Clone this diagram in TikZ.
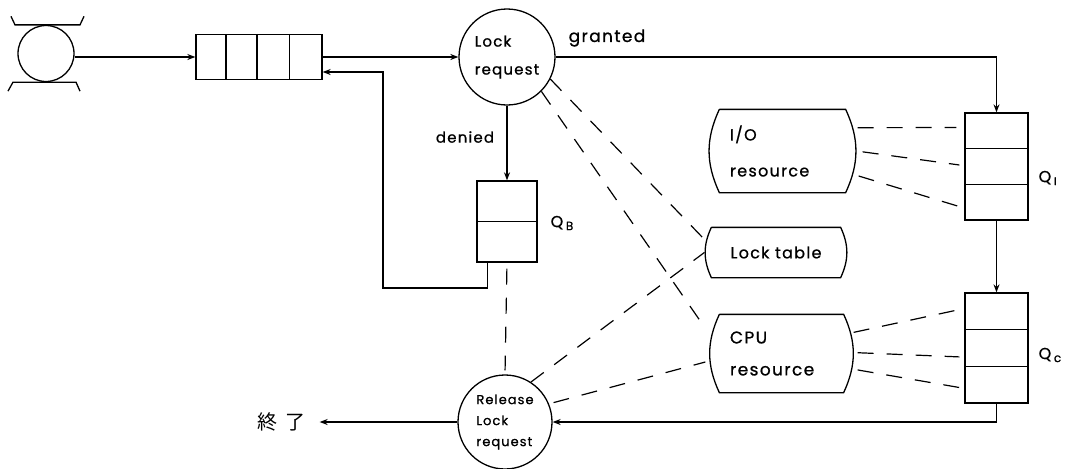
\documentclass[tikz,border=0pt]{standalone}
\usepackage{fontspec}
\setmainfont{Poppins}[LetterSpace=8,FakeBold=0.8]
\newfontfamily\cjk{Noto Sans CJK JP}
\usetikzlibrary{arrows.meta,calc}
\begin{document}
\begin{tikzpicture}[x=1pt,y=-1pt,
  line width=1.3pt,
  arr/.style={-{Stealth[length=8pt,width=6pt]}},
  dsh/.style={dash pattern=on 16pt off 13pt, line width=1.2pt},
  q/.style={draw, rectangle, inner sep=0pt},
  circ/.style={draw, circle, inner sep=0pt},
  res/.style={rectangle, inner sep=0pt},
  lbl/.style={font=\fontsize{16}{18}\selectfont, inner sep=0pt},
]
\useasboundingbox (0,0) rectangle (1072,469);

% nodes
\node[circ, minimum size=56pt] (src) at (46,53.5) {};
\node[q, minimum width=126pt, minimum height=45pt] (q0) at (259,57) {};
\node[circ, minimum size=96pt, align=left, font=\fontsize{15}{28}\selectfont] (lock) at (507,57) {Lock\\request};
\node[q, minimum width=60pt, minimum height=81pt] (qb) at (507,221.5) {};
\node[q, minimum width=63pt, minimum height=107pt] (qi) at (996.5,166.5) {};
\node[q, minimum width=63pt, minimum height=110pt] (qc) at (996.5,348) {};
\node[res, minimum width=125pt, minimum height=82pt, text width=105pt, align=left, font=\fontsize{16}{36}\selectfont] (io) at (782.5,151) {I/O\\resource};
\node[res, minimum width=128pt, minimum height=49pt, font=\fontsize{16}{18}\selectfont] (table) at (776,252.5) {Lock table};
\node[res, minimum width=123pt, minimum height=77pt, text width=103pt, align=left, font=\fontsize{17}{32}\selectfont] (cpu) at (781.5,353.5) {CPU\\resource};
\node[circ, minimum size=94pt, align=left, font=\fontsize{13}{21}\selectfont] (rel) at (505,422) {Release\\Lock\\request};
\node[font=\cjk\fontsize{20}{22}\selectfont, inner sep=0pt] (fin) at (281,422) {終\hspace{8pt}了};

\node[lbl, font=\fontsize{17}{18}\selectfont] (granted) at (607,38) {granted};
\node[lbl, font=\fontsize{15}{18}\selectfont] (denied) at (465,137) {denied};
\node[lbl, anchor=west] (qbl) at (550,223) {Q\,{\fontsize{12}{12}\selectfont\raisebox{-3pt}{B}}};
\node[lbl, anchor=west] (qil) at (1038,178) {Q\,{\fontsize{11}{11}\selectfont\raisebox{-3pt}{I}}};
\node[lbl, anchor=west] (qcl) at (1038,355) {Q\,{\fontsize{12}{12}\selectfont\raisebox{-3pt}{c}}};

% source drum bars
\draw ($(src.north)+(-35,-8.5)$) -- ++(4,8.5) -- ++(65,0) -- ++(4,-8.5);
\draw ($(src.south)+(-38,9)$) -- ++(5,-9) -- ++(63,0) -- ++(4,9);

% queue dividers
\foreach \f in {0.24,0.485,0.74}
  \draw ($(q0.north west)!\f!(q0.north east)$) -- ($(q0.south west)!\f!(q0.south east)$);
\draw (qb.west) -- (qb.east);
\foreach \n in {qi,qc} {
  \draw ($(\n.north west)!1/3!(\n.south west)$) -- ($(\n.north east)!1/3!(\n.south east)$);
  \draw ($(\n.north west)!2/3!(\n.south west)$) -- ($(\n.north east)!2/3!(\n.south east)$);
}

% resource shapes
\foreach \n in {io,table,cpu}
  \draw (\n.north west) -- (\n.north east) to[bend left=25] (\n.south east) -- (\n.south west) to[bend left=25] (\n.north west);

% connectors
\coordinate (fb) at (383,288);
\draw[arr] (src.east |- q0.west) -- (q0.west);
\draw[arr] (q0.east) -- (lock.west);
\draw[arr] (lock.south) -- (qb.north);
\draw[arr] ([xshift=11pt]qb.south west) |- (fb) |- ([yshift=-15pt]q0.east);
\draw[arr] (lock.east) -| (qi.north);
\draw[arr] (qi.south) -- (qc.north);
\draw[arr] (qc.south) |- (rel.east);
\draw[arr] (rel.west) -- ([xshift=14pt]fin.east);

% dashed relations
\draw[dsh] (lock.-27) -- ([shift={(-4pt,10pt)}]table.west);
\draw[dsh] (lock.-45) -- ([shift={(-14pt,-14pt)}]cpu.north west);
\draw[dsh, shorten <=6pt, shorten >=4pt] (qb.south) -- (rel.north);
\draw[dsh] (rel.57) -- ([xshift=-7pt]table.west);
\draw[dsh] ([xshift=5pt]rel.24) -- ([shift={(-14pt,-8.5pt)}]cpu.west);

\draw[dsh] ($(io.north east)!0.22!(io.south east)+(12,0)$) -- ($(qi.north west)!0.14!(qi.south west)+(-8,0)$);
\draw[dsh] ($(io.north east)!0.51!(io.south east)+(17,0)$) -- ($(qi.north west)!0.486!(qi.south west)+(-5,0)$);
\draw[dsh] ($(io.north east)!0.80!(io.south east)+(13,0)$) -- ($(qi.north west)!0.87!(qi.south west)+(-5,0)$);

\draw[dsh] ($(cpu.north east)!0.23!(cpu.south east)+(10,0)$) -- ($(qc.north west)!0.155!(qc.south west)+(-5,0)$);
\draw[dsh] ($(cpu.north east)!0.49!(cpu.south east)+(14,0)$) -- ($(qc.north west)!0.58!(qc.south west)+(-5,0)$);
\draw[dsh] ($(cpu.north east)!0.71!(cpu.south east)+(14,0)$) -- ($(qc.north west)!0.855!(qc.south west)+(-5,0)$);
\end{tikzpicture}
\end{document}
